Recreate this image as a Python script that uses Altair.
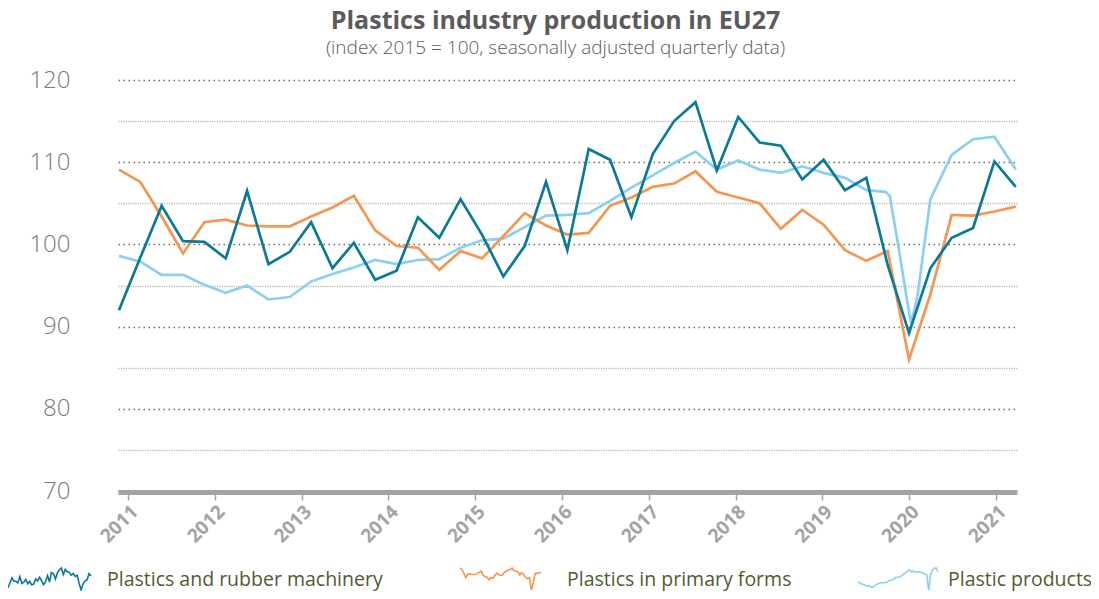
import altair as alt
import pandas as pd

FONT = "Open Sans"

YEARS = list(range(2011, 2022))
SERIES = ["Plastics and rubber machinery", "Plastics in primary forms", "Plastic products"]
COLORS = ["#0a7a96", "#f4964f", "#8ccff0"]

machinery_q = list(range(43))
machinery = [92.0, 98.4, 104.7, 100.4, 100.3, 98.3, 106.5, 97.6, 99.1, 102.7,
             97.1, 100.2, 95.7, 96.8, 103.3, 100.8, 105.5, 101.2, 96.1, 99.8,
             107.6, 99.3, 111.6, 110.3, 103.3, 111.0, 115.0, 117.3, 109.0, 115.5,
             112.4, 112.0, 107.9, 110.3, 106.6, 108.1, 97.5, 89.2, 97.1, 100.8,
             102.0, 110.1, 107.0]

primary_q = list(range(43))
primary = [109.1, 107.6, 103.4, 98.9, 102.7, 103.0, 102.3, 102.2, 102.2, 103.4,
           104.5, 105.9, 101.7, 99.8, 99.6, 96.9, 99.2, 98.3, 101.0, 103.8,
           102.3, 101.2, 101.4, 104.7, 105.7, 107.0, 107.4, 108.9, 106.4, 105.7,
           105.0, 101.9, 104.2, 102.4, 99.3, 98.0, 99.2, 86.0, 93.9, 103.6,
           103.5, 104.0, 104.6]

products_q = list(range(36)) + [35.9, 36.1, 36.5, 36.95, 37.1, 37.4, 38, 39, 40, 41, 42]
products = [98.6, 97.9, 96.3, 96.3, 95.1, 94.1, 95.0, 93.3, 93.6, 95.5,
            96.4, 97.2, 98.1, 97.6, 98.1, 98.2, 99.6, 100.5, 100.7, 102.1,
            103.5, 103.6, 103.8, 105.3, 106.9, 108.4, 109.9, 111.3, 109.1, 110.2,
            109.1, 108.7, 109.5, 108.7, 108.1, 106.6,
            106.4, 105.9, 99.8, 92.5, 90.4, 93.8, 105.5, 110.9, 112.8, 113.1, 109.1]

# position of the observations on the year axis
FIRST_T = 2010.896
STEP_T = 0.246
X_DOMAIN = [2010.885, 2021.242]

rows = []
for name, qs, vals in [(SERIES[2], products_q, products),
                       (SERIES[1], primary_q, primary),
                       (SERIES[0], machinery_q, machinery)]:
    for q, v in zip(qs, vals):
        rows.append({"series": name, "t": FIRST_T + STEP_T * q, "value": v})
df = pd.DataFrame(rows)

main = alt.Chart(df).mark_line().encode(
    x=alt.X("t:Q",
            scale=alt.Scale(domain=X_DOMAIN, nice=False, zero=False),
            axis=alt.Axis(values=YEARS, format="d", labelAngle=-45, labelAlign="right",
                          labelBaseline="top", labelFontSize=19, labelFontWeight="bold",
                          labelColor="#a3a3a3", labelFont=FONT, domainColor="#a3a3a3",
                          domainWidth=5, tickColor="#a3a3a3", tickWidth=1.5, tickSize=8,
                          grid=False, title=None, labelPadding=2, offset=1)),
    y=alt.Y("value:Q",
            scale=alt.Scale(domain=[70, 120], nice=False, zero=False),
            axis=alt.Axis(values=list(range(70, 121, 5)),
                          labelExpr="datum.value % 10 === 0 ? datum.label : ''",
                          grid=True,
                          gridColor={"condition": {"test": "datum.value % 10 === 0", "value": "#6f6f55"},
                                     "value": "#b9b9b0"},
                          gridDash={"condition": {"test": "datum.value % 10 === 0", "value": [1.5, 3.5]},
                                    "value": [1.2, 1.2]},
                          gridWidth=1.5, domain=False, ticks=True, tickSize=20, tickOpacity=0,
                          labelFontSize=24, labelColor="#7a7a7a", labelFont=FONT,
                          labelFontWeight=300, labelPadding=28, title=None)),
    color=alt.Color("series:N", scale=alt.Scale(domain=SERIES, range=COLORS), legend=None),
    strokeWidth=alt.StrokeWidth("series:N", scale=alt.Scale(domain=SERIES, range=[2.7, 2.7, 3.0]),
                                legend=None),
)

# legend: a miniature of every series with its name
LEG = [(SERIES[0], COLORS[0], machinery_q, machinery, -110, -27, -11),
       (SERIES[1], COLORS[1], primary_q, primary, 342, 423, 449),
       (SERIES[2], COLORS[2], products_q, products, 740, 820, 830)]

layers = [main]
for name, color, qs, vals, x0, x1, tx in LEG:
    d = pd.DataFrame({"q": qs, "v": vals})
    spark = alt.Chart(d).mark_line(color=color, strokeWidth=1.6).encode(
        x=alt.X("q:Q", scale=alt.Scale(domain=[min(qs), max(qs)], range=[x0, x1], nice=False, zero=False),
                axis=None),
        y=alt.Y("v:Q", scale=alt.Scale(domain=[min(vals), max(vals)], range=[510, 488], nice=False,
                                       zero=False), axis=None),
    )
    label = alt.Chart(pd.DataFrame({"label": [name]})).mark_text(
        align="left", baseline="middle", fontSize=19.5, font=FONT, color="#4f5c30"
    ).encode(x=alt.value(tx), y=alt.value(500), text="label:N")
    layers += [spark, label]

chart = alt.layer(*layers).resolve_scale(x="independent", y="independent").properties(
    width=899,
    height=411,
    autosize=alt.AutoSizeParams(type="none"),
    padding={"left": 110, "top": 72, "right": 74, "bottom": 100},
    title=alt.TitleParams(text="Plastics industry production in EU27",
                          subtitle="(index 2015 = 100, seasonally adjusted quarterly data)",
                          fontSize=25, font=FONT, fontWeight="bold", color="#5b5b5b",
                          subtitleFontSize=19, subtitleFont=FONT, subtitleColor="#5b5b5b",
                          subtitleFontWeight=300,
                          anchor="middle", frame="group", dx=-12, offset=10, subtitlePadding=5),
).configure_view(stroke=None)

chart.save("out.html", embed_options={"renderer": "svg", "actions": False})
